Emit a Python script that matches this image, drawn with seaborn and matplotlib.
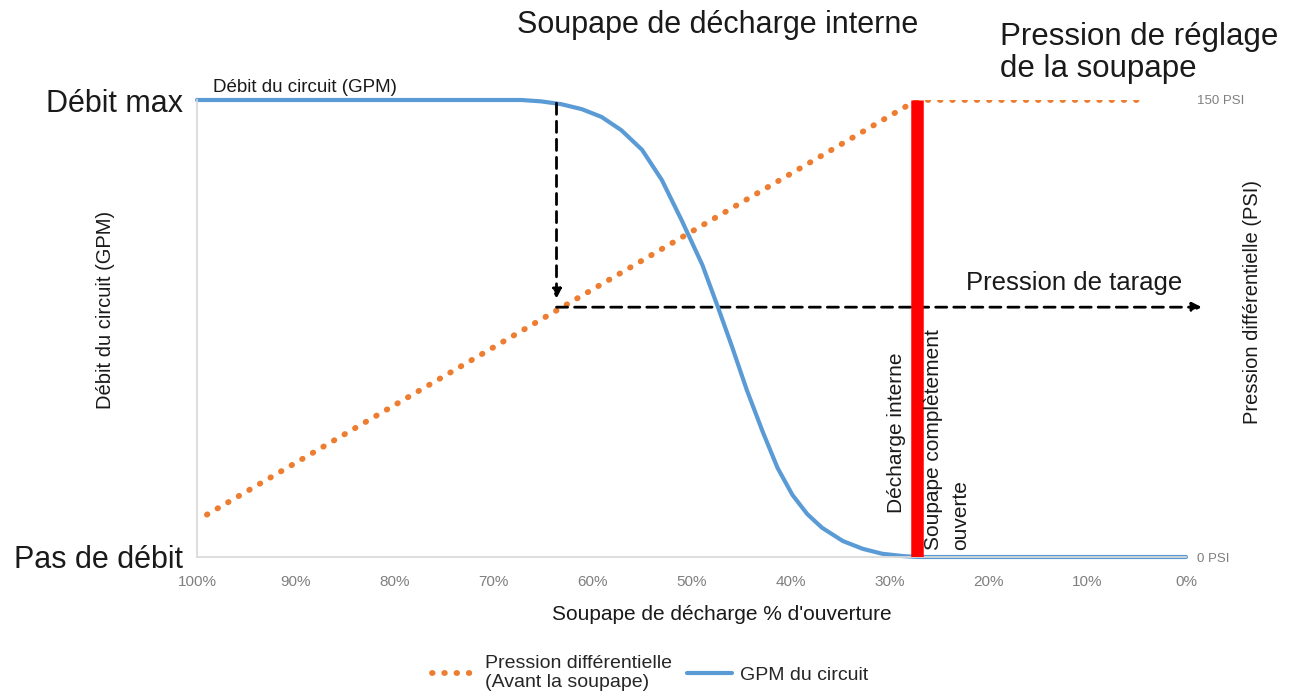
import matplotlib
matplotlib.use("Agg")
import matplotlib.pyplot as plt
import seaborn as sns

# ---------------------------------------------------------------------------
# Data
# ---------------------------------------------------------------------------
# Blue curve: circuit flow (fraction of max) vs valve opening (%)
gpm_open = [100, 67.2, 65.2, 63.2, 61.1, 59.1, 57.1, 55.0, 53.0, 51.0,
            48.9, 47.4, 45.9, 44.4, 42.8, 41.3, 39.8, 38.3, 36.8, 34.7,
            32.7, 30.7, 28.6, 27.1, 0]
gpm_flow = [1.0, 1.0, 0.997, 0.991, 0.980, 0.963, 0.934, 0.891, 0.825, 0.737,
            0.639, 0.551, 0.460, 0.365, 0.274, 0.195, 0.136, 0.094, 0.064, 0.035,
            0.018, 0.007, 0.002, 0.0, 0.0]

# Orange dotted: differential pressure (PSI) vs valve opening (%)
psi_open = [100, 27.2, 5]
psi_value = [12, 150, 150]

setting_open = 27.2          # relief valve fully open
tare_open = 63.65            # where the dashed arrows start
tare_psi = 82                # "Pression de tarage"
tare_flow_top = 0.993
tare_flow_tip = 0.565
arrow_end_open = -1.6

x_ticks = [100, 90, 80, 70, 60, 50, 40, 30, 20, 10, 0]
x_labels = [f"{v}%" for v in x_ticks]
flow_ticks = [0, 1]
flow_labels = ["Pas de débit", "Débit max"]
psi_ticks = [0, 150]
psi_labels = ["0 PSI", "150 PSI"]

BLUE = "#5B9BD5"
ORANGE = "#ED7D31"
RED = "#FF0000"
INK = "#1a1a1a"
GREY = "#7f7f7f"

sns.set_theme(style="white")
plt.rcParams["font.family"] = ["Liberation Sans", "DejaVu Sans"]

W, H = 1290, 700


def fx(x):
    return x / W


def fy(y):
    return 1 - y / H


fig = plt.figure(figsize=(12.9, 7), dpi=100)
fig.patch.set_facecolor("white")

# axes box: 100% at x=197, 0% at x=1186, top y=100, bottom y=557
ax = fig.add_axes([fx(197), fy(557), (1186 - 197) / W, (557 - 100) / H])
ax2 = ax.twinx()
ax.set_zorder(ax2.get_zorder() + 1)
ax.patch.set_visible(False)

# orange pressure line on the PSI axis
sns.lineplot(x=psi_open, y=psi_value, ax=ax2, color=ORANGE, linewidth=4.2,
             linestyle=(0, (0.1, 2.0)), dash_capstyle="round",
             label="Pression différentielle\n(Avant la soupape)", legend=False)

# blue flow curve on the flow axis
sns.lineplot(x=gpm_open, y=gpm_flow, ax=ax, color=BLUE, linewidth=3,
             label="GPM du circuit", legend=False, clip_on=False,
             solid_joinstyle="round")

# red vertical line
ax.axvline(setting_open, ymin=0, ymax=1, color=RED, linewidth=9,
           solid_capstyle="butt", zorder=3)

# dashed arrows
ax.annotate("", xy=(tare_open, tare_flow_tip), xytext=(tare_open, tare_flow_top),
            arrowprops=dict(arrowstyle="-|>", color="black", lw=2,
                            linestyle=(0, (4, 2.5)), mutation_scale=14,
                            shrinkA=0, shrinkB=0), zorder=4)
ax2.annotate("", xy=(arrow_end_open, tare_psi), xytext=(tare_open, tare_psi),
             arrowprops=dict(arrowstyle="-|>", color="black", lw=2,
                             linestyle=(0, (4, 2.5)), mutation_scale=14,
                             shrinkA=0, shrinkB=0), annotation_clip=False)

# axes limits / ticks
ax.set_xlim(100, 0)
ax.set_ylim(0, 1)
ax2.set_ylim(0, 150)

ax.set_xticks(x_ticks)
ax.set_xticklabels(x_labels, fontsize=11, color=GREY)
ax.set_yticks(flow_ticks)
ax.set_yticklabels(flow_labels, fontsize=22, color=INK)
ax2.set_yticks(psi_ticks)
ax2.set_yticklabels(psi_labels, fontsize=9.5, color=GREY)
ax.tick_params(axis="x", length=0, pad=13)
ax.tick_params(axis="y", length=0, pad=10)
ax2.tick_params(axis="y", length=0, pad=8)
ax.grid(False)
ax2.grid(False)

for a in (ax, ax2):
    for side in ("top", "right"):
        a.spines[side].set_visible(False)
    a.spines["left"].set_color("#d9d9d9")
    a.spines["bottom"].set_color("#d9d9d9")
ax2.spines["left"].set_visible(False)
ax2.spines["bottom"].set_visible(False)
ax.set_xlabel("")
ax.set_ylabel("")
ax2.set_ylabel("")

# ------ Texts ------
fig.text(fx(718), fy(25), "Soupape de décharge interne", fontsize=22,
         color=INK, ha="center", va="center")
fig.text(fx(1000), fy(53), "Pression de réglage\nde la soupape", fontsize=22.5,
         color=INK, ha="left", va="center", linespacing=1.12)
fig.text(fx(213), fy(87), "Débit du circuit (GPM)", fontsize=13.5,
         color=INK, ha="left", va="center")
fig.text(fx(105), fy(310), "Débit du circuit (GPM)", fontsize=14.5,
         color=INK, ha="center", va="center", rotation=90)
fig.text(fx(1253), fy(302), "Pression différentielle (PSI)", fontsize=14.5,
         color=INK, ha="center", va="center", rotation=90)
fig.text(fx(1074), fy(283), "Pression de tarage", fontsize=18.5,
         color=INK, ha="center", va="center")
fig.text(fx(722), fy(615), "Soupape de décharge % d'ouverture", fontsize=15,
         color=INK, ha="center", va="center")
fig.text(fx(897), fy(513), "Décharge interne", fontsize=15, color=INK,
         ha="left", va="center", rotation=90, rotation_mode="anchor")
fig.text(fx(947), fy(550), "Soupape complètement\nouverte", fontsize=15,
         color=INK, ha="left", va="center", rotation=90,
         rotation_mode="anchor", linespacing=1.5, multialignment="left")

# ------ Legend ------
handles = ax2.get_lines()[:1] + ax.get_lines()[:1]
labels = ["Pression différentielle\n(Avant la soupape)", "GPM du circuit"]
fig.legend(handles, labels, loc="center", bbox_to_anchor=(fx(650), fy(673)),
           ncol=2, frameon=False, fontsize=14, handlelength=2.3,
           handletextpad=0.4, columnspacing=0.8, labelspacing=0.3)

fig.savefig("out.png", dpi=100, facecolor="white")
